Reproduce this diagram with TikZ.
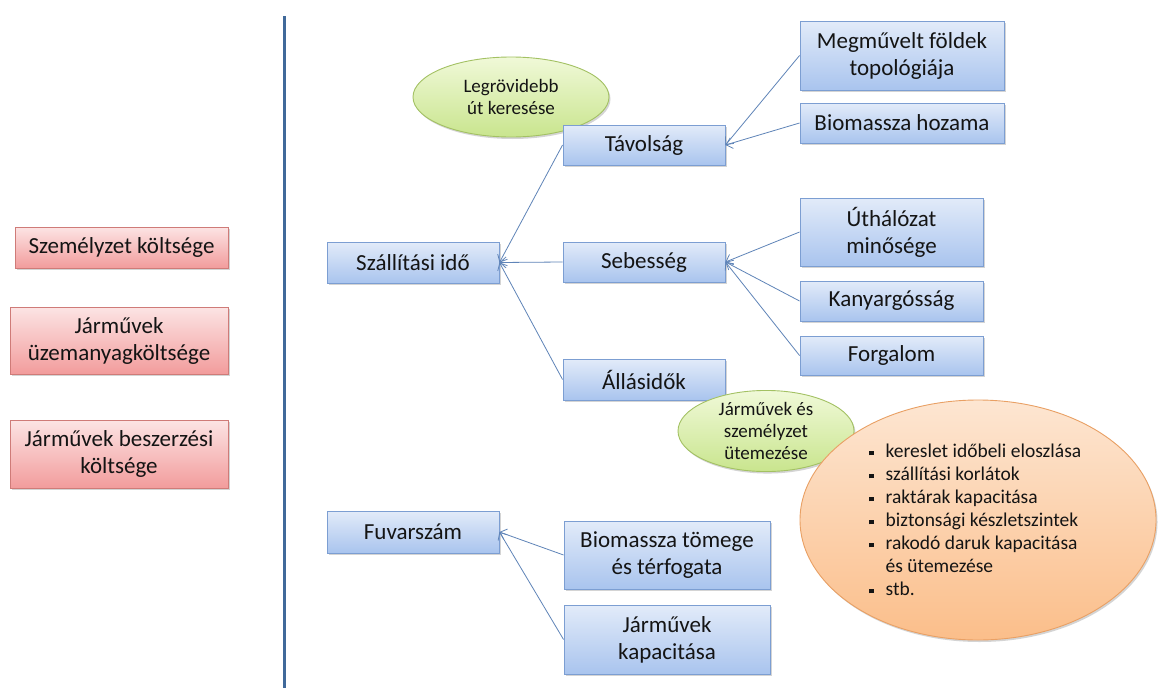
\documentclass[tikz,border=0pt]{standalone}
\usepackage{fontspec}
\setmainfont{Carlito}
\usetikzlibrary{shapes.geometric,shadows,arrows.meta}
\definecolor{bluetop}{HTML}{E2EBF9}
\definecolor{bluebot}{HTML}{A9C4EE}
\definecolor{blueline}{HTML}{7C9ED2}
\definecolor{pinktop}{HTML}{FCE4E4}
\definecolor{pinkbot}{HTML}{F29C9C}
\definecolor{pinkline}{HTML}{CF7B78}
\definecolor{greentop}{HTML}{F0F9D8}
\definecolor{greenbot}{HTML}{C9E58E}
\definecolor{greenline}{HTML}{A3C163}
\definecolor{orangetop}{HTML}{FDE6D2}
\definecolor{orangebot}{HTML}{FBBE8A}
\definecolor{orangeline}{HTML}{E9A064}
\definecolor{arrowcol}{HTML}{5F84B8}
\definecolor{vline}{HTML}{40699A}
\definecolor{txt}{HTML}{141414}
\tikzset{
  shad/.style={drop shadow={opacity=0.28,shadow xshift=1.5pt,shadow yshift=-2pt,fill=black!60}},
  bbox/.style={shad,draw=blueline,line width=0.9pt,top color=bluetop,bottom color=bluebot,
    align=center,inner sep=0pt,text=txt,font=\fontsize{23}{27}\selectfont},
  pbox/.style={shad,draw=pinkline,line width=0.9pt,top color=pinktop,bottom color=pinkbot,
    align=center,inner sep=0pt,text=txt,font=\fontsize{23}{27}\selectfont},
  gell/.style={shad,ellipse,draw=greenline,line width=0.9pt,top color=greentop,bottom color=greenbot,
    align=center,inner sep=0pt,text=txt,font=\fontsize{19}{22}\selectfont},
  oell/.style={shad,ellipse,draw=orangeline,line width=0.9pt,top color=orangetop,bottom color=orangebot,inner sep=0pt},
  conn/.style={draw=arrowcol,line width=0.8pt,-{Straight Barb[length=6pt,width=11pt]}},
}
\newcommand{\bul}{\rule[0.25ex]{4.5pt}{4.5pt}}
\begin{document}
\begin{tikzpicture}[x=1pt,y=-1pt]
\useasboundingbox[fill=white] (0,0) rectangle (1158,688);
% separator
\coordinate (vtop) at (284,16);
\coordinate (vbot) at (284,688);
\draw[vline,line width=3pt] (vtop) -- (vbot);
% left cost boxes
\node[pbox,minimum width=213,minimum height=41] (szem) at (121.5,247.5) {Személyzet költsége};
\node[pbox,minimum width=218,minimum height=67] (uzem) at (119,340.5) {Járművek\\üzemanyagköltsége};
\node[pbox,minimum width=218,minimum height=68] (besz) at (119,454) {Járművek beszerzési\\költsége};
% green ellipse 1
\node[gell,minimum width=196,minimum height=80] (ell1) at (511,97) {Legrövidebb\\út keresése};
% main boxes
\node[bbox,minimum width=172,minimum height=41] (szall) at (413,262.5) {Szállítási idő};
\node[bbox,minimum width=162,minimum height=40] (tav) at (644,145) {Távolság};
\node[bbox,minimum width=162,minimum height=40] (seb) at (644,262) {Sebesség};
\node[bbox,minimum width=162,minimum height=41] (allas) at (644,379.5) {Állásidők};
\node[bbox,minimum width=204,minimum height=69] (megm) at (902,55.5) {Megművelt földek\\topológiája};
\node[bbox,minimum width=204,minimum height=40] (bhoz) at (902,123) {Biomassza hozama};
\node[bbox,minimum width=183,minimum height=68] (uth) at (891.5,232) {Úthálózat\\minősége};
\node[bbox,minimum width=183,minimum height=40] (kany) at (891.5,301) {Kanyargósság};
\node[bbox,minimum width=183,minimum height=39] (forg) at (891.5,355.5) {Forgalom};
\node[bbox,minimum width=172,minimum height=42] (fuv) at (413,532) {Fuvarszám};
\node[bbox,minimum width=206,minimum height=68] (btom) at (667,555) {Biomassza tömege\\és térfogata};
\node[bbox,minimum width=206,minimum height=69] (jkap) at (667,639.5) {Járművek\\kapacitása};
% ellipses 2 and 3
\node[gell,minimum width=176,minimum height=78] (ell2) at (766,431) {Járművek és\\személyzet\\ütemezése};
\node[oell,minimum width=356,minimum height=240] (ell3) at (978,520) {};
\node[text=txt,font=\fontsize{19.5}{23}\selectfont,inner sep=0pt,anchor=west] (list) at (869,522) {%
\renewcommand{\arraystretch}{1}%
\begin{tabular}{@{}l@{\hspace{12pt}}l@{}}
\bul & kereslet időbeli eloszlása\\
\bul & szállítási korlátok\\
\bul & raktárak kapacitása\\
\bul & biztonsági készletszintek\\
\bul & rakodó daruk kapacitása\\
 & és ütemezése\\
\bul & stb.
\end{tabular}};
% connectors
\draw[conn] (tav.west) -- (szall.east);
\draw[conn] (seb.west) -- (szall.east);
\draw[conn] (allas.west) -- (szall.east);
\draw[conn] (megm.west) -- (tav.east);
\draw[conn] (bhoz.west) -- (tav.east);
\draw[conn] (uth.west) -- (seb.east);
\draw[conn] (kany.west) -- (seb.east);
\draw[conn] (forg.west) -- (seb.east);
\draw[conn] (btom.west) -- (fuv.east);
\draw[conn] (jkap.west) -- (fuv.east);
\end{tikzpicture}
\end{document}
